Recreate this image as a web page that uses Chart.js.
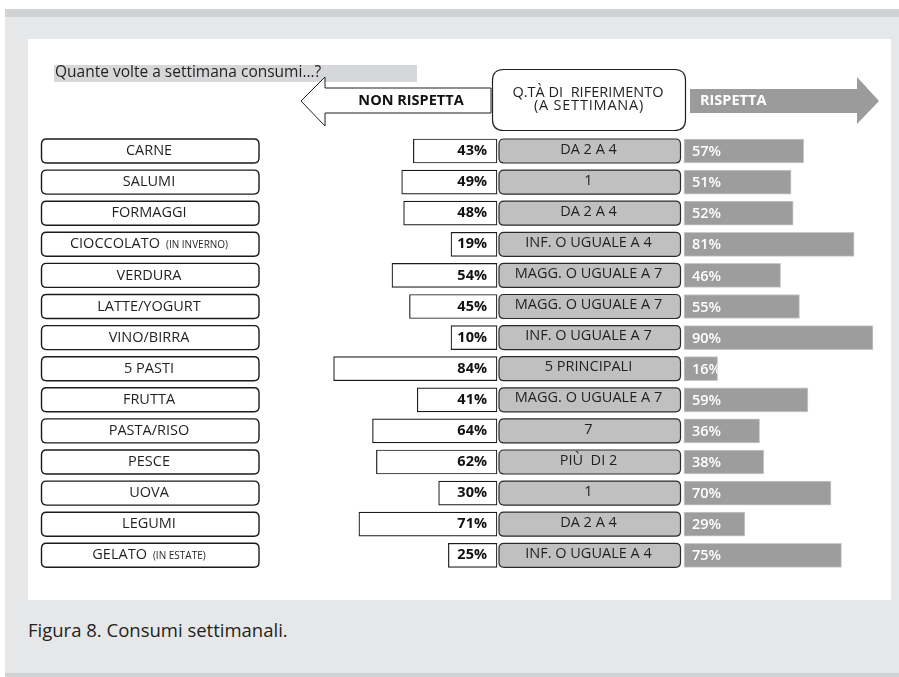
<!DOCTYPE html>
<html>
<head>
<meta charset="utf-8">
<script src="https://cdn.jsdelivr.net/npm/chart.js@4/dist/chart.umd.min.js"></script>
<style>
  html, body { margin: 0; padding: 0; }
  body { width: 899px; height: 677px; position: relative; overflow: hidden; background: #ffffff; font-family: "Open Sans", sans-serif; }
  #bg { position: absolute; left: 5px; top: 9px; width: 894px; height: 668px; background: #e6e7e8; }
  #topband { position: absolute; left: 5px; top: 9px; width: 894px; height: 8px; background: #d1d2d4; }
  #botband { position: absolute; left: 5px; top: 673px; width: 894px; height: 4px; background: #d1d2d4; }
  #panel { position: absolute; left: 28px; top: 39px; width: 863px; height: 561px; background: #ffffff; }
  #caption { position: absolute; left: 28px; top: 617px; font-size: 18.5px; color: #231f20; white-space: nowrap; }
  #wrap { position: absolute; left: 0; top: 0; width: 899px; height: 677px; }
</style>
</head>
<body>
<div id="bg"></div>
<div id="topband"></div>
<div id="botband"></div>
<div id="panel"></div>
<div id="caption">Figura 8. Consumi settimanali.</div>
<div id="wrap"><canvas id="c" width="899" height="677"></canvas></div>
<script>
// ---- data ----
const categories = ['CARNE','SALUMI','FORMAGGI','CIOCCOLATO','VERDURA','LATTE/YOGURT','VINO/BIRRA','5 PASTI','FRUTTA','PASTA/RISO','PESCE','UOVA','LEGUMI','GELATO'];
const categoryNotes = ['','','','(IN INVERNO)','','','','','','','','','','(IN ESTATE)'];
const referenceQty = ['DA 2 A 4','1','DA 2 A 4','INF. O UGUALE A 4','MAGG. O UGUALE A 7','MAGG. O UGUALE A 7','INF. O UGUALE A 7','5 PRINCIPALI','MAGG. O UGUALE A 7','7','PIÙ  DI 2','1','DA 2 A 4','INF. O UGUALE A 4'];
const nonRispetta = [43,49,48,19,54,45,10,84,41,64,62,30,71,25];
const rispetta = [57,51,52,81,46,55,90,16,59,36,38,70,29,75];
const questionText = 'Quante volte a settimana consumi…?';
const headerLeft = 'NON RISPETTA';
const headerMid = ['Q.TÀ DI  RIFERIMENTO', '(A SETTIMANA)'];
const headerRight = 'RISPETTA';

// ---- layout constants (pixels) ----
const W = 899, H = 677;
const FONT = '"Open Sans", sans-serif';
const leftZero = 497, leftPxPerPct = 1.945;
const rightZero = 684, rightPxPerPct = 2.1;
const rowTop = 135.45, rowPitch = 31.1;

function roundRect(ctx, x, y, w, h, r) {
  ctx.beginPath();
  ctx.moveTo(x + r, y);
  ctx.lineTo(x + w - r, y);
  ctx.quadraticCurveTo(x + w, y, x + w, y + r);
  ctx.lineTo(x + w, y + h - r);
  ctx.quadraticCurveTo(x + w, y + h, x + w - r, y + h);
  ctx.lineTo(x + r, y + h);
  ctx.quadraticCurveTo(x, y + h, x, y + h - r);
  ctx.lineTo(x, y + r);
  ctx.quadraticCurveTo(x, y, x + r, y);
  ctx.closePath();
}

const decor = {
  id: 'decor',
  beforeDatasetsDraw(chart) {
    const ctx = chart.ctx;
    ctx.save();
    // question strip
    ctx.fillStyle = '#d6d7d8';
    ctx.fillRect(54, 65, 363, 17);
    ctx.fillStyle = '#231f20';
    ctx.font = '15.5px ' + FONT;
    ctx.textBaseline = 'middle';
    ctx.textAlign = 'left';
    ctx.fillText(questionText, 55, 73);

    // left arrow (NON RISPETTA)
    ctx.beginPath();
    ctx.moveTo(491, 88); ctx.lineTo(325, 88); ctx.lineTo(325, 77); ctx.lineTo(301, 101);
    ctx.lineTo(325, 126); ctx.lineTo(325, 113); ctx.lineTo(491, 113); ctx.closePath();
    ctx.fillStyle = '#ffffff'; ctx.fill();
    ctx.strokeStyle = '#231f20'; ctx.lineWidth = 1; ctx.stroke();
    ctx.fillStyle = '#111111';
    ctx.font = 'bold 14.5px ' + FONT;
    ctx.textAlign = 'center';
    ctx.fillText(headerLeft, 411, 101);

    // middle header box
    roundRect(ctx, 492.5, 69.5, 193, 61, 11);
    ctx.fillStyle = '#ffffff'; ctx.fill();
    ctx.strokeStyle = '#231f20'; ctx.lineWidth = 1.2; ctx.stroke();
    ctx.fillStyle = '#231f20';
    ctx.font = '14.5px ' + FONT;
    ctx.fillText(headerMid[0], 588, 92.5);
    ctx.letterSpacing = '0.8px';
    ctx.fillText(headerMid[1], 589, 106);
    ctx.letterSpacing = '0px';

    // right arrow (RISPETTA)
    ctx.beginPath();
    ctx.moveTo(690, 89); ctx.lineTo(857, 89); ctx.lineTo(857, 77); ctx.lineTo(879, 101);
    ctx.lineTo(857, 124); ctx.lineTo(857, 113); ctx.lineTo(690, 113); ctx.closePath();
    ctx.fillStyle = '#9b9b9b'; ctx.fill();
    ctx.fillStyle = '#ffffff';
    ctx.font = 'bold 14.5px ' + FONT;
    ctx.textAlign = 'left';
    ctx.fillText(headerRight, 700, 101);

    // category boxes + reference boxes
    const y = chart.scales.y;
    categories.forEach((cat, i) => {
      const cy = y.getPixelForValue(i);
      // category box
      roundRect(ctx, 41.5, cy - 12, 217.5, 24, 5);
      ctx.fillStyle = '#ffffff'; ctx.fill();
      ctx.strokeStyle = '#1a1a1a'; ctx.lineWidth = 1.4; ctx.stroke();
      ctx.fillStyle = '#231f20';
      ctx.textBaseline = 'middle';
      const note = categoryNotes[i];
      ctx.font = '14.5px ' + FONT;
      const w1 = ctx.measureText(cat).width;
      let w2 = 0;
      if (note) { ctx.font = '10px ' + FONT; w2 = ctx.measureText(note).width + 6; }
      const x0 = 149 - (w1 + w2) / 2;
      ctx.textAlign = 'left';
      ctx.font = '14.5px ' + FONT;
      ctx.fillText(cat, x0, cy);
      if (note) { ctx.font = '10px ' + FONT; ctx.fillText(note, x0 + w1 + 6, cy + 1); }

      // reference box
      roundRect(ctx, 499, cy - 12, 181.5, 24, 5);
      ctx.fillStyle = '#c0c0c0'; ctx.fill();
      ctx.strokeStyle = '#2a2a2a'; ctx.lineWidth = 1.2; ctx.stroke();
      ctx.fillStyle = '#231f20';
      ctx.font = '14.5px ' + FONT;
      ctx.textAlign = 'center';
      ctx.fillText(referenceQty[i], 588.5, cy - 1.5);
    });
    ctx.restore();
  },
  afterDatasetsDraw(chart) {
    const ctx = chart.ctx;
    ctx.save();
    ctx.textBaseline = 'middle';
    const m0 = chart.getDatasetMeta(0);
    m0.data.forEach((bar, i) => {
      ctx.fillStyle = '#111111';
      ctx.font = 'bold 14.5px ' + FONT;
      ctx.textAlign = 'right';
      ctx.fillText(nonRispetta[i] + '%', bar.base - 10, bar.y);
    });
    const m1 = chart.getDatasetMeta(1);
    m1.data.forEach((bar, i) => {
      ctx.save();
      ctx.beginPath();
      ctx.rect(bar.base, bar.y - 12, bar.x - bar.base, 24);
      ctx.clip();
      ctx.fillStyle = '#ffffff';
      ctx.font = '600 14.5px ' + FONT;
      ctx.textAlign = 'left';
      ctx.fillText(rispetta[i] + '%', bar.base + 8, bar.y + 1);
      ctx.restore();
    });
    ctx.restore();
  }
};

const chartH = rowPitch * categories.length;
new Chart(document.getElementById('c'), {
  type: 'bar',
  data: {
    labels: categories.map((c, i) => categoryNotes[i] ? c + ' ' + categoryNotes[i] : c),
    datasets: [
      {
        label: 'Non rispetta',
        data: nonRispetta,
        xAxisID: 'xL',
        backgroundColor: '#ffffff',
        borderColor: '#1a1a1a',
        borderWidth: 1.2,
        borderSkipped: false,
        barThickness: 24,
        minBarLength: 46
      },
      {
        label: 'Rispetta',
        data: rispetta,
        xAxisID: 'xR',
        backgroundColor: '#9d9d9d',
        borderColor: '#c8c8c8',
        borderWidth: 1,
        borderSkipped: false,
        barThickness: 24
      }
    ]
  },
  options: {
    indexAxis: 'y',
    responsive: false,
    animation: false,
    devicePixelRatio: 1,
    grouped: false,
    layout: { padding: { left: 0, right: 0, top: rowTop, bottom: H - rowTop - chartH } },
    plugins: { legend: { display: false }, tooltip: { enabled: false }, title: { display: false } },
    scales: {
      y: { display: false, offset: true, grid: { display: false } },
      xL: {
        type: 'linear', display: false, reverse: true,
        max: leftZero / leftPxPerPct,
        min: leftZero / leftPxPerPct - W / leftPxPerPct
      },
      xR: {
        type: 'linear', display: false,
        min: -rightZero / rightPxPerPct,
        max: -rightZero / rightPxPerPct + W / rightPxPerPct
      }
    }
  },
  plugins: [decor]
});
</script>
</body>
</html>
